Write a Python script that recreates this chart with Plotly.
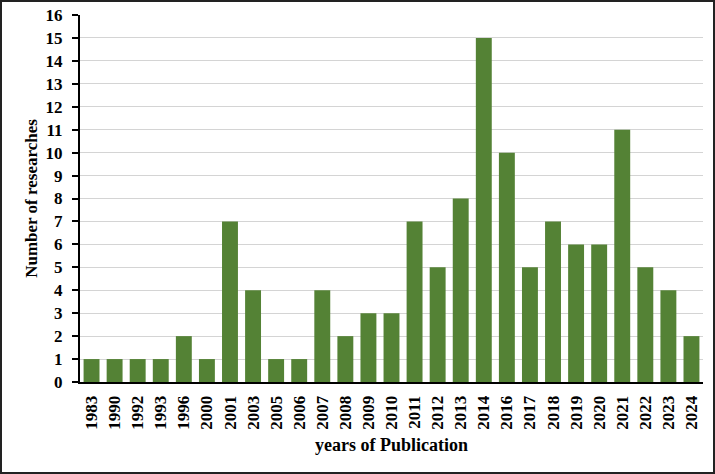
import plotly.graph_objects as go

# Publications per year
years = ["1983", "1990", "1992", "1993", "1996", "2000", "2001", "2003", "2005",
         "2006", "2007", "2008", "2009", "2010", "2011", "2012", "2013", "2014",
         "2016", "2017", "2018", "2019", "2020", "2021", "2022", "2023", "2024"]
counts = [1, 1, 1, 1, 2, 1, 7, 4, 1, 1, 4, 2, 3, 3, 7, 5, 8, 15, 10, 5, 7, 6, 6, 11, 5, 4, 2]
y_ticks = list(range(0, 17))

font_family = "Liberation Serif, Times New Roman, serif"

fig = go.Figure()

fig.add_trace(
    go.Bar(
        x=years,
        y=counts,
        marker=dict(color="#548235", line=dict(width=0)),
    )
)

fig.update_layout(
    width=715,
    height=474,
    margin=dict(l=80, r=12, t=15, b=92, autoexpand=False),
    plot_bgcolor="white",
    paper_bgcolor="white",
    bargap=0.31,
    showlegend=False,
    font=dict(family=font_family, color="black"),
    shapes=[
        dict(type="rect", xref="paper", yref="paper",
             x0=-79 / 623, x1=1 + 11 / 623, y0=-91 / 367, y1=1 + 14 / 367,
             line=dict(color="#222222", width=2), layer="above"),
    ],
)

fig.update_xaxes(
    title=dict(text="years of Publication", font=dict(size=18, weight="bold"), standoff=10),
    tickangle=-90,
    tickfont=dict(size=17, weight="bold"),
    ticklabelstandoff=5,
    showline=True, linecolor="black", linewidth=2,
    showgrid=False,
    ticks="", automargin=False,
)

fig.update_yaxes(
    title=dict(text="Number of researches", font=dict(size=17, weight="bold"), standoff=4),
    range=[0, 16],
    tickvals=y_ticks,
    tickfont=dict(size=17, weight="bold"),
    ticklabelstandoff=6,
    showline=True, linecolor="black", linewidth=2,
    ticks="outside", ticklen=6, tickwidth=2, tickcolor="black",
    showgrid=True, gridcolor="#d4d4d4", gridwidth=1,
    zeroline=False, automargin=False,
)

fig.write_html("out.html", config={"displayModeBar": False},
               post_script="document.body.style.margin='0';")
